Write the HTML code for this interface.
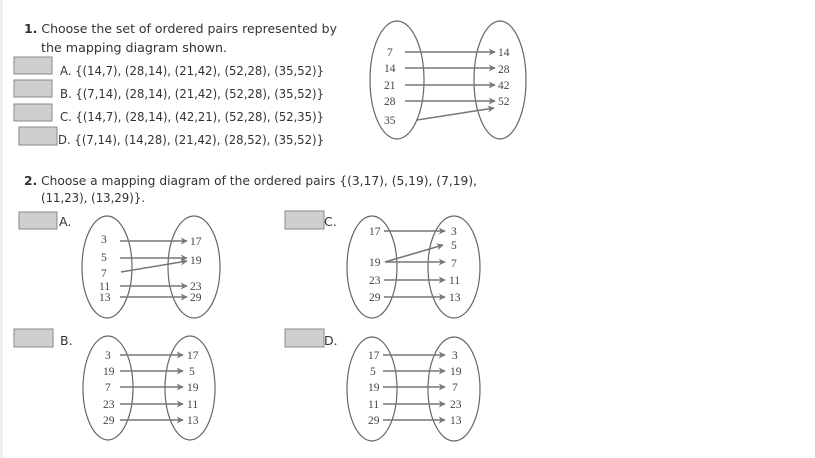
<!DOCTYPE html>
<html><head><meta charset="utf-8"><style>
html,body{margin:0;padding:0;background:#fff;}
svg{display:block;}
.q{font-family:"DejaVu Sans","Liberation Sans",sans-serif;font-size:12.5px;fill:#333;}
.b{font-weight:bold;}
.n{font-family:"Liberation Serif",serif;font-size:11.5px;fill:#444;}
.e{fill:none;stroke:#666;stroke-width:1.2;}
.a{stroke:#777;stroke-width:1.6;marker-end:url(#ah);}
.box{fill:#cfcfcf;stroke:#888;stroke-width:1;}
</style></head><body>
<svg width="815" height="458" viewBox="0 0 815 458" xmlns="http://www.w3.org/2000/svg">
<defs><marker id="ah" viewBox="0 0 10 10" refX="9" refY="5" markerWidth="11" markerHeight="7" orient="auto" markerUnits="userSpaceOnUse"><path d="M0,0 L10,5 L0,10 L3,5z" fill="#777"/></marker></defs>
<rect x="0" y="0" width="3" height="458" fill="#eee"/>
<!-- Q1 -->
<text class="q" x="24" y="33" textLength="313" lengthAdjust="spacingAndGlyphs"><tspan class="b">1.</tspan> Choose the set of ordered pairs represented by</text>
<text class="q" x="41" y="52" textLength="186" lengthAdjust="spacingAndGlyphs">the mapping diagram shown.</text>
<rect class="box" x="14" y="57" width="38" height="17"/>
<text class="q" x="60" y="75" textLength="264" lengthAdjust="spacingAndGlyphs">A.  {(14,7), (28,14), (21,42), (52,28), (35,52)}</text>
<rect class="box" x="14" y="80" width="38" height="17"/>
<text class="q" x="60" y="98" textLength="264" lengthAdjust="spacingAndGlyphs">B.  {(7,14), (28,14), (21,42), (52,28), (35,52)}</text>
<rect class="box" x="14" y="104" width="38" height="17"/>
<text class="q" x="60" y="121" textLength="264" lengthAdjust="spacingAndGlyphs">C.  {(14,7), (28,14), (42,21), (52,28), (52,35)}</text>
<rect class="box" x="19" y="127" width="38" height="18"/>
<text class="q" x="58" y="144" textLength="266" lengthAdjust="spacingAndGlyphs">D.  {(7,14), (14,28), (21,42), (28,52), (35,52)}</text>
<ellipse class="e" cx="397" cy="80" rx="27" ry="59"/>
<ellipse class="e" cx="500" cy="80" rx="26" ry="59"/>
<g class="n">
<text x="387" y="56">7</text><text x="384" y="72">14</text><text x="384" y="89">21</text><text x="384" y="105">28</text><text x="384" y="124">35</text>
<text x="498" y="56">14</text><text x="498" y="73">28</text><text x="498" y="89">42</text><text x="498" y="105">52</text>
</g>
<line class="a" x1="405" y1="52" x2="495" y2="52"/>
<line class="a" x1="405" y1="68" x2="495" y2="68"/>
<line class="a" x1="405" y1="85" x2="495" y2="85"/>
<line class="a" x1="405" y1="101" x2="495" y2="101"/>
<line class="a" x1="417" y1="120" x2="494" y2="108"/>
<!-- Q2 -->
<text class="q" x="24" y="185" textLength="453" lengthAdjust="spacingAndGlyphs"><tspan class="b">2.</tspan> Choose a mapping diagram of the ordered pairs {(3,17), (5,19), (7,19),</text>
<text class="q" x="41" y="202" textLength="104" lengthAdjust="spacingAndGlyphs">(11,23), (13,29)}.</text>
<rect class="box" x="19" y="212" width="38" height="17"/>
<text class="q" x="59" y="226">A.</text>
<rect class="box" x="285" y="211" width="39" height="18"/>
<text class="q" x="324" y="226">C.</text>
<rect class="box" x="14" y="329" width="39" height="18"/>
<text class="q" x="60" y="345">B.</text>
<rect class="box" x="285" y="329" width="39" height="18"/>
<text class="q" x="324" y="345">D.</text>
<!-- A -->
<ellipse class="e" cx="107" cy="267" rx="25" ry="51"/>
<ellipse class="e" cx="194" cy="267" rx="26" ry="51"/>
<g class="n">
<text x="101" y="243">3</text><text x="101" y="261">5</text><text x="101" y="277">7</text><text x="99" y="290">11</text><text x="99" y="301">13</text>
<text x="190" y="245">17</text><text x="190" y="264">19</text><text x="190" y="290">23</text><text x="190" y="301">29</text>
</g>
<line class="a" x1="120" y1="241" x2="187" y2="241"/>
<line class="a" x1="120" y1="258" x2="187" y2="258"/>
<line class="a" x1="121" y1="272" x2="187" y2="261"/>
<line class="a" x1="120" y1="286" x2="187" y2="286"/>
<line class="a" x1="120" y1="297" x2="187" y2="297"/>
<!-- C -->
<ellipse class="e" cx="372" cy="267" rx="25" ry="51"/>
<ellipse class="e" cx="454" cy="267" rx="26" ry="51"/>
<g class="n">
<text x="369" y="235">17</text><text x="369" y="266">19</text><text x="369" y="284">23</text><text x="369" y="301">29</text>
<text x="451" y="235">3</text><text x="451" y="249">5</text><text x="451" y="267">7</text><text x="449" y="284">11</text><text x="449" y="301">13</text>
</g>
<line class="a" x1="384" y1="231" x2="445" y2="231"/>
<line class="a" x1="385" y1="262" x2="443" y2="245"/>
<line class="a" x1="385" y1="262" x2="445" y2="262"/>
<line class="a" x1="384" y1="280" x2="445" y2="280"/>
<line class="a" x1="384" y1="297" x2="445" y2="297"/>
<!-- B -->
<ellipse class="e" cx="108" cy="388" rx="25" ry="52"/>
<ellipse class="e" cx="190" cy="388" rx="25" ry="52"/>
<g class="n">
<text x="105" y="359">3</text><text x="103" y="375">19</text><text x="105" y="391">7</text><text x="103" y="408">23</text><text x="103" y="424">29</text>
<text x="187" y="359">17</text><text x="189" y="375">5</text><text x="187" y="391">19</text><text x="187" y="408">11</text><text x="187" y="424">13</text>
</g>
<line class="a" x1="120" y1="355" x2="183" y2="355"/>
<line class="a" x1="120" y1="371" x2="183" y2="371"/>
<line class="a" x1="120" y1="387" x2="183" y2="387"/>
<line class="a" x1="120" y1="404" x2="183" y2="404"/>
<line class="a" x1="120" y1="420" x2="183" y2="420"/>
<!-- D -->
<ellipse class="e" cx="372" cy="389" rx="25" ry="52"/>
<ellipse class="e" cx="454" cy="389" rx="26" ry="52"/>
<g class="n">
<text x="368" y="359">17</text><text x="370" y="375">5</text><text x="368" y="391">19</text><text x="368" y="408">11</text><text x="368" y="424">29</text>
<text x="452" y="359">3</text><text x="450" y="375">19</text><text x="452" y="391">7</text><text x="450" y="408">23</text><text x="450" y="424">13</text>
</g>
<line class="a" x1="383" y1="355" x2="445" y2="355"/>
<line class="a" x1="383" y1="371" x2="445" y2="371"/>
<line class="a" x1="383" y1="387" x2="445" y2="387"/>
<line class="a" x1="383" y1="404" x2="445" y2="404"/>
<line class="a" x1="383" y1="420" x2="445" y2="420"/>
</svg>
</body></html>
